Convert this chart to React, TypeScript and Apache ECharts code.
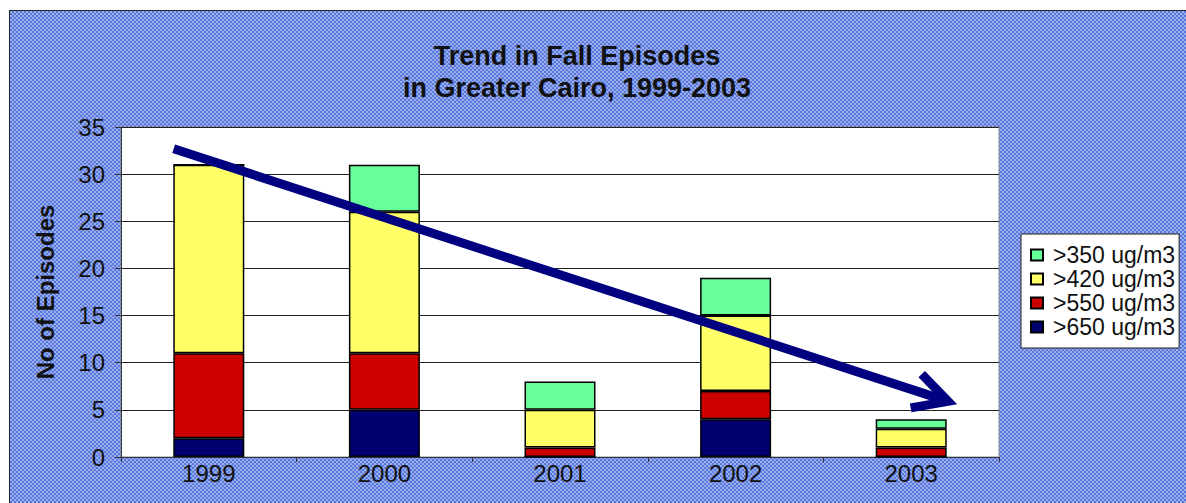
import React, { useEffect, useRef } from "react";
import * as echarts from "echarts";

const categories = ["1999", "2000", "2001", "2002", "2003"];
const above650 = [2, 5, 0, 4, 0];
const above550 = [9, 6, 1, 3, 1];
const above420 = [20, 15, 4, 8, 2];
const above350 = [0, 5, 3, 4, 1];
const seriesNames = [">650 ug/m3", ">550 ug/m3", ">420 ug/m3", ">350 ug/m3"];
const legendOrder = [">350 ug/m3", ">420 ug/m3", ">550 ug/m3", ">650 ug/m3"];
const seriesColors = ["#000070", "#CC0000", "#FFFF66", "#66FF99"];
// trend arrow: [start category position, start value, end category position, end value]
const trendArrow = [[-0.2, 32.7, 4.21, 5.9]];

const FONT = "'Liberation Sans', Arial, sans-serif";

export default function App() {
  const ref = useRef<HTMLDivElement>(null);
  useEffect(() => {
    if (!ref.current) return;
    const chart = echarts.init(ref.current, null, { renderer: "svg" });
    const values = [above650, above550, above420, above350];
    const bars = values.map((v, i) => ({
      name: seriesNames[i],
      type: "bar",
      stack: "total",
      barWidth: 71,
      data: v,
      itemStyle: { color: seriesColors[i], borderColor: "#000", borderWidth: 1.5 },
    }));
    chart.setOption({
      animation: false,
      backgroundColor: "transparent",
      textStyle: { fontFamily: FONT },
      title: {
        text: "Trend in Fall Episodes\nin Greater Cairo, 1999-2003",
        left: 562,
        top: 24,
        textAlign: "center",
        textStyle: { fontFamily: FONT, fontSize: 27, fontWeight: "bold", color: "#111", lineHeight: 32 },
      },
      legend: {
        orient: "vertical",
        left: 1011,
        top: 223,
        data: legendOrder.map((n) => ({ name: n, icon: "rect" })),
        itemWidth: 12,
        itemHeight: 11,
        itemGap: 0,
        padding: [9, 4, 9, 9],
        backgroundColor: "#fff",
        borderColor: "#222",
        borderWidth: 1,
        textStyle: { fontFamily: FONT, fontSize: 23, color: "#111", lineHeight: 24, padding: [0, 0, 0, 5] },
      },
      grid: {
        left: 111,
        top: 116,
        width: 878,
        height: 330,
        show: true,
        backgroundColor: "#fff",
        borderColor: "#888",
        borderWidth: 1,
      },
      xAxis: [
        {
          type: "category",
          data: categories,
          axisLine: { lineStyle: { color: "#333", width: 1 } },
          axisTick: { show: true, length: 5, lineStyle: { color: "#333" } },
          axisLabel: { fontFamily: FONT, fontSize: 24, color: "#111", margin: 4 },
        },
        { type: "value", min: -0.5, max: 4.5, show: false },
      ],
      yAxis: {
        type: "value",
        min: 0,
        max: 35,
        interval: 5,
        name: "No of Episodes",
        nameLocation: "middle",
        nameGap: 64,
        nameTextStyle: { fontFamily: FONT, fontSize: 24, fontWeight: "bold", color: "#111" },
        axisLine: { show: true, onZero: false, lineStyle: { color: "#333" } },
        axisTick: { show: true, length: 6, lineStyle: { color: "#333" } },
        axisLabel: { fontFamily: FONT, fontSize: 24, color: "#111", margin: 16 },
        splitLine: { lineStyle: { color: "#222", width: 1 } },
      },
      series: [
        ...bars,
        {
          type: "custom",
          xAxisIndex: 1,
          yAxisIndex: 0,
          z: 10,
          clip: false,
          silent: true,
          encode: { x: [0, 2], y: [1, 3] },
          data: trendArrow,
          renderItem: (params: any, api: any) => {
            const p1 = api.coord([api.value(0), api.value(1)]);
            const p2 = api.coord([api.value(2), api.value(3)]);
            const ang = Math.atan2(p2[1] - p1[1], p2[0] - p1[0]);
            const back = ang + Math.PI;
            const L = 38;
            const a = (28 * Math.PI) / 180;
            const h1 = [p2[0] + L * Math.cos(back + a), p2[1] + L * Math.sin(back + a)];
            const h2 = [p2[0] + L * Math.cos(back - a), p2[1] + L * Math.sin(back - a)];
            const stroke = "#000080";
            return {
              type: "group",
              children: [
                {
                  type: "line",
                  shape: { x1: p1[0], y1: p1[1], x2: p2[0] - 4 * Math.cos(ang), y2: p2[1] - 4 * Math.sin(ang) },
                  style: { stroke, lineWidth: 9 },
                },
                {
                  type: "polyline",
                  shape: { points: [h1, p2, h2] },
                  style: { stroke, lineWidth: 9, fill: null, lineJoin: "miter" },
                },
              ],
            };
          },
        },
      ],
    });
    return () => chart.dispose();
  }, []);

  return (
    <div
      style={{
        position: "absolute",
        left: 9,
        top: 10,
        width: 1177,
        height: 493,
        boxSizing: "border-box",
        borderTop: "1px solid #222",
        borderLeft: "1px solid #222",
        background: "repeating-conic-gradient(#5878dc 0% 25%, #9aaeee 0% 50%) 0 0 / 4px 4px",
      }}
    >
      <div ref={ref} style={{ width: 1176, height: 492 }} />
    </div>
  );
}
